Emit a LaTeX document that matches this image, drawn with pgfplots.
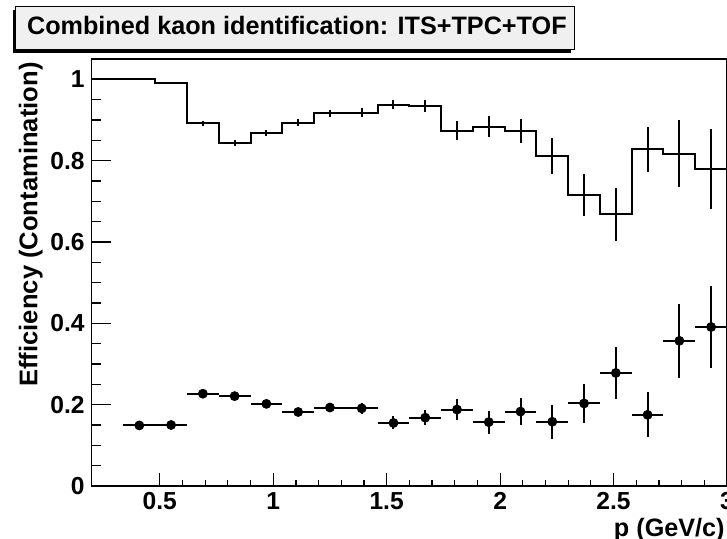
\documentclass[border=0pt]{standalone}
\usepackage{fontspec}
\setmainfont{Liberation Sans}
\usepackage{pgfplots}
\usepackage{pgfplotstable}
\pgfplotsset{compat=1.18}

% efficiency histogram: left bin edges (last row closes the final bin)
\pgfplotstableread{
xl eff
0.20 1.000
0.34 1.000
0.48 0.992
0.62 0.892
0.76 0.844
0.90 0.867
1.04 0.893
1.18 0.916
1.32 0.918
1.46 0.938
1.60 0.934
1.74 0.874
1.88 0.883
2.02 0.873
2.16 0.811
2.30 0.715
2.44 0.668
2.58 0.828
2.72 0.817
2.86 0.779
3.00 0.779
}\effstep

% efficiency errors at bin centres
\pgfplotstableread{
x eff err
0.27 1.000 0.000
0.41 1.000 0.000
0.55 0.992 0.002
0.69 0.892 0.0066
0.83 0.844 0.008
0.97 0.867 0.0075
1.11 0.893 0.0086
1.25 0.916 0.0094
1.39 0.918 0.0115
1.53 0.938 0.010
1.67 0.934 0.014
1.81 0.874 0.0225
1.95 0.883 0.026
2.09 0.873 0.029
2.23 0.811 0.044
2.37 0.715 0.052
2.51 0.668 0.066
2.65 0.828 0.056
2.79 0.817 0.082
2.93 0.779 0.098
}\efferr

% contamination
\pgfplotstableread{
x c err
0.41 0.149 0.005
0.55 0.150 0.005
0.69 0.227 0.006
0.83 0.221 0.006
0.97 0.202 0.007
1.11 0.182 0.008
1.25 0.193 0.009
1.39 0.191 0.014
1.53 0.155 0.016
1.67 0.168 0.019
1.81 0.188 0.025
1.95 0.157 0.028
2.09 0.183 0.034
2.23 0.158 0.042
2.37 0.203 0.048
2.51 0.278 0.065
2.65 0.175 0.055
2.79 0.357 0.091
2.93 0.391 0.102
}\cont

\pgfplotsset{
  rootframe/.style={
    width=317.65bp, height=213.5bp, scale only axis,
    xmin=0.2, xmax=3.0, ymin=0, ymax=1.05,
    tick align=inside,
    axis line style={line width=0.6bp},
    every tick/.style={black, line width=0.6bp},
    /pgf/number format/assume math mode=true,
    ticklabel style={font=\bfseries\fontsize{12.3bp}{12.3bp}\selectfont},
  },
}

\begin{document}
\begin{tikzpicture}
% y ticks (longer, as ROOT draws them)
\begin{axis}[rootframe,
    xtick=\empty,
    ytick={0,0.2,0.4,0.6,0.8,1}, minor y tick num=3, ytick pos=left,
    major tick length=9.5bp, minor tick length=4.75bp,
    yticklabel style={anchor=east, inner sep=0pt, xshift=-3.35bp},
  ]
\end{axis}
% x ticks and data
\begin{axis}[rootframe, name=ax,
    ytick=\empty,
    xtick={0.5,1,1.5,2,2.5,3}, minor x tick num=4, xtick pos=lower,
    major tick length=6.5bp, minor tick length=3bp,
    xticklabel style={anchor=base, inner sep=0pt, yshift=-11.6bp},
  ]
\addplot[black, line width=1bp, const plot mark left]
  table[x=xl, y=eff] {\effstep};
\addplot[draw=none, mark=none,
  error bars/.cd, y dir=both, y explicit, error mark=none,
  error bar style={draw=black, line width=1bp}]
  table[x=x, y=eff, y error=err] {\efferr};
\addplot[black, only marks, mark=*, mark size=2.25bp,
  error bars/.cd, x dir=both, x fixed=0.07, y dir=both, y explicit,
  error mark=none, error bar style={line width=1bp}]
  table[x=x, y=c, y error=err] {\cont};
\end{axis}

% title box with shadow
\fill[black] ([shift={(-39.35bp,3bp)}]ax.north west) rectangle ([shift={(239.65bp,24.5bp)}]ax.north west);
\draw[fill=black!6, line width=0.5bp] ([shift={(-37.85bp,4.5bp)}]ax.north west) rectangle ([shift={(241.15bp,26bp)}]ax.north west);
\node[anchor=base west, inner sep=0pt, font=\bfseries\fontsize{12.6bp}{12.6bp}\selectfont]
  at ([shift={(-32.5bp,12bp)}]ax.north west) {Combined kaon identification: ITS+TPC+TOF};

\node[rotate=90, anchor=base east, inner sep=0pt, font=\bfseries\fontsize{12.8bp}{12.8bp}\selectfont]
  at ([shift={(-27.2bp,-1.5bp)}]ax.north west) {Efficiency (Contamination)};
\node[anchor=base east, inner sep=0pt, font=\bfseries\fontsize{12.6bp}{12.6bp}\selectfont]
  at ([shift={(-1bp,-25bp)}]ax.south east) {p (GeV/c)};

\pgfresetboundingbox
\path[use as bounding box] ([shift={(-45.85bp,-26.5bp)}]ax.south west) rectangle ([shift={(0bp,29.5bp)}]ax.north east);
\end{tikzpicture}
\end{document}
